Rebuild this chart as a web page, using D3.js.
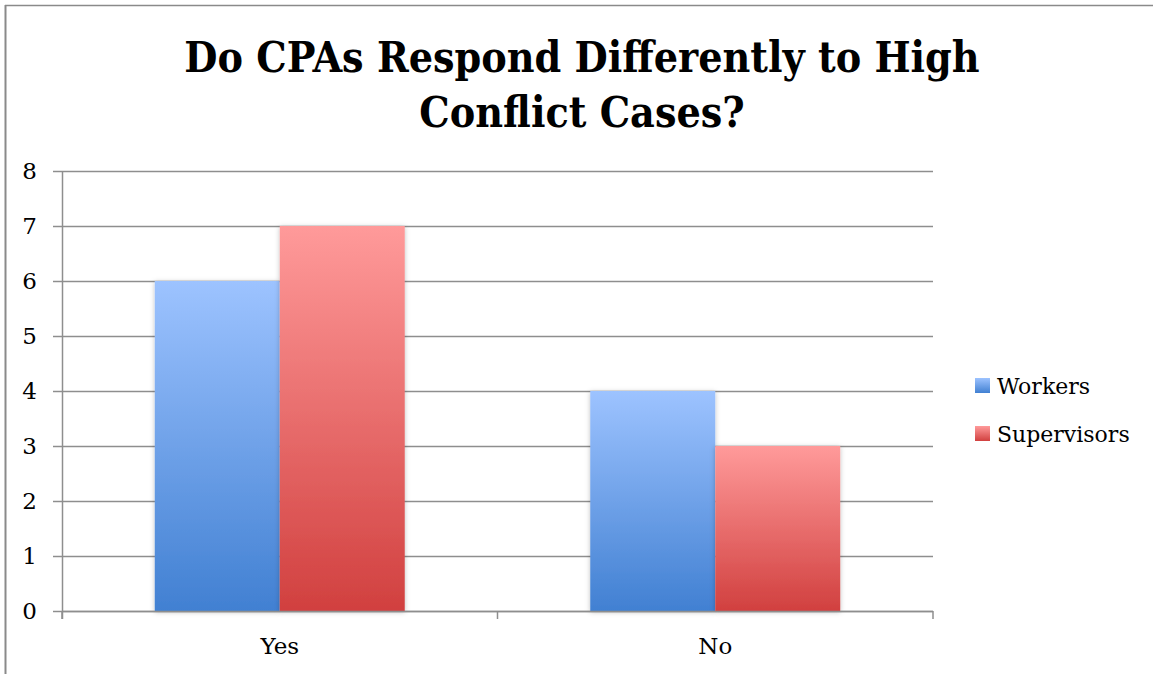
<!DOCTYPE html>
<html><head><meta charset="utf-8">
<script src="https://cdn.jsdelivr.net/npm/d3@7/dist/d3.min.js"></script>
<style>html,body{margin:0;padding:0;background:#fff;}svg{display:block;}</style>
</head><body>
<svg id="chart" width="1153" height="674"></svg>
<script>
const categories = ["Yes", "No"];
const seriesNames = ["Workers", "Supervisors"];
const workers = [6, 4];
const supervisors = [7, 3];
const yTicks = [0, 1, 2, 3, 4, 5, 6, 7, 8];
const titleLines = ["Do CPAs Respond Differently to High", "Conflict Cases?"];

const svg = d3.select("#chart");
const W = 1153, H = 674;
const m = {left: 62, right: 220, top: 171, bottom: 63};
const x0 = d3.scaleBand().domain(categories).range([m.left, W - m.right]).paddingInner(0.426).paddingOuter(0.213);
const x1 = d3.scaleBand().domain(seriesNames).range([0, x0.bandwidth()]);
const y = d3.scaleLinear().domain([0, 8]).range([H - m.bottom, m.top]);

const defs = svg.append("defs");
const grads = {
  Workers: ["#9dc3ff", "#4180d2"],
  Supervisors: ["#ff9a9a", "#d1403f"]
};
Object.entries(grads).forEach(([k, c]) => {
  const g = defs.append("linearGradient").attr("id", "g-" + k).attr("x1", 0).attr("y1", 0).attr("x2", 0).attr("y2", 1);
  g.append("stop").attr("offset", "0%").attr("stop-color", c[0]);
  g.append("stop").attr("offset", "100%").attr("stop-color", c[1]);
});
const f = defs.append("filter").attr("id", "shadow").attr("x", "-10%").attr("y", "-10%").attr("width", "120%").attr("height", "120%");
f.append("feDropShadow").attr("dx", 0).attr("dy", 1).attr("stdDeviation", 2.5).attr("flood-color", "#000").attr("flood-opacity", 0.25);

// outer frame (top and left)
svg.append("line").attr("x1", 5).attr("x2", W).attr("y1", 5.5).attr("y2", 5.5).attr("stroke", "#8a8a8a").attr("stroke-width", 1.5);
svg.append("line").attr("x1", 5.5).attr("x2", 5.5).attr("y1", 5).attr("y2", H).attr("stroke", "#8a8a8a").attr("stroke-width", 2);

// title
svg.append("text").attr("x", 582).attr("y", 72).attr("text-anchor", "middle")
  .attr("font-family", "'DejaVu Serif Condensed', 'DejaVu Serif'").attr("font-stretch", "condensed")
  .attr("font-weight", "bold").attr("font-size", 42.5)
  .attr("fill", "#000")
  .selectAll("tspan").data(titleLines).join("tspan")
  .attr("x", 582).attr("dy", (d, i) => i === 0 ? 0 : 55).text(d => d);

// gridlines
const gridG = svg.append("g").attr("transform", `translate(${m.left},0)`)
  .call(d3.axisLeft(y).tickValues(yTicks).tickSize(-(W - m.right - m.left)).tickFormat(""));
gridG.select(".domain").remove();
gridG.selectAll(".tick line").attr("stroke", "#8e8e8e").attr("stroke-width", 1.5);

// y axis
const yAxis = svg.append("g").attr("transform", `translate(${m.left},0)`)
  .call(d3.axisLeft(y).tickValues(yTicks).tickSize(9).tickPadding(16).tickFormat(d3.format("d")));
yAxis.select(".domain").attr("stroke", "#8e8e8e").attr("stroke-width", 1.5).attr("d", `M0.5,${y(8)}V${y(0)+8}`);
yAxis.selectAll(".tick line").attr("stroke", "#8e8e8e").attr("stroke-width", 1.5);
yAxis.selectAll(".tick text").attr("font-family", "DejaVu Serif").attr("font-size", 23).attr("fill", "#000");

// bars
const rows = categories.map((c, i) => ({cat: c, vals: [workers[i], supervisors[i]]}));
const barG = svg.append("g");
rows.forEach(r => {
  r.vals.forEach((v, j) => {
    const s = seriesNames[j];
    barG.append("rect")
      .attr("x", x0(r.cat) + x1(s))
      .attr("y", y(v))
      .attr("width", x1.bandwidth())
      .attr("height", y(0) - y(v))
      .attr("fill", `url(#g-${s})`)
      .attr("filter", "url(#shadow)");
  });
});

// x axis
const xAxis = svg.append("g").attr("transform", `translate(0,${y(0)})`)
  .call(d3.axisBottom(x0).tickSize(0).tickPadding(27));
xAxis.select(".domain").attr("stroke", "#8e8e8e").attr("stroke-width", 1.5).attr("d", `M${m.left},0.5H${W - m.right}`);
xAxis.selectAll(".tick text").attr("font-family", "DejaVu Serif").attr("font-size", 23).attr("fill", "#000");
const sepX = [m.left, (x0("Yes") + x0.bandwidth() + x0("No")) / 2, W - m.right];
xAxis.selectAll(".sep").data(sepX).join("line").attr("class", "sep")
  .attr("x1", d => d).attr("x2", d => d).attr("y1", 0).attr("y2", 8)
  .attr("stroke", "#8e8e8e").attr("stroke-width", 1.5);

// legend
const leg = svg.append("g").attr("transform", "translate(975,378)");
seriesNames.forEach((s, i) => {
  const g = leg.append("g").attr("transform", `translate(0,${i * 48})`);
  g.append("rect").attr("width", 15).attr("height", 15).attr("fill", `url(#g-${s})`);
  g.append("text").attr("x", 22).attr("y", 16).attr("font-family", "DejaVu Serif").attr("font-size", 22).attr("fill", "#000").text(s);
});
</script>
</body></html>
